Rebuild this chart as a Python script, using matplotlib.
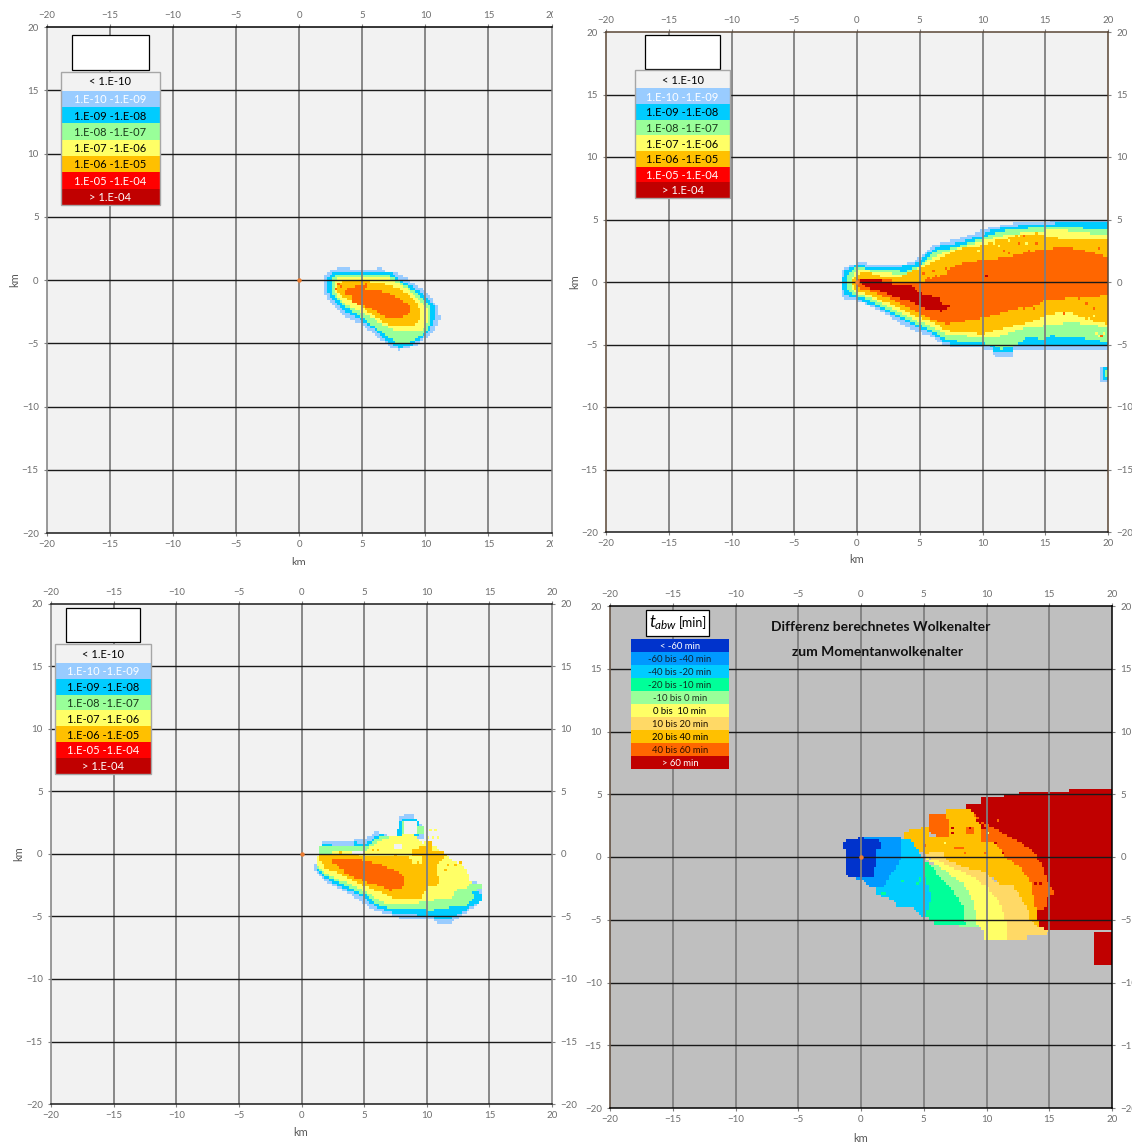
import numpy as np
import matplotlib
matplotlib.use("Agg")
import matplotlib.pyplot as plt
from matplotlib.colors import ListedColormap
from matplotlib.path import Path
from matplotlib.patches import Rectangle
from matplotlib.transforms import Affine2D, Bbox

W, H = 1132, 1142
FONT = "Lato"
plt.rcParams["font.family"] = FONT
plt.rcParams["mathtext.fontset"] = "custom"
plt.rcParams["mathtext.it"] = "Lato:italic"
plt.rcParams["mathtext.rm"] = "Lato"

# ---------- legend content ----------
CONC_LABELS = ["< 1.E-10", "1.E-10 -1.E-09", "1.E-09 -1.E-08", "1.E-08 -1.E-07",
               "1.E-07 -1.E-06", "1.E-06 -1.E-05", "1.E-05 -1.E-04", "> 1.E-04"]
CONC_COLORS = ["#F2F2F2", "#99CCFF", "#00CCFF", "#99FF99", "#FFFF66", "#FFC000", "#FF6600", "#C00000"]
CONC_LEG_COLORS = ["#F2F2F2", "#99CCFF", "#00CCFF", "#99FF99", "#FFFF66", "#FFC000", "#FF0000", "#C00000"]
CONC_TEXT = ["black", "white", "black", "#1a3a1a", "black", "black", "white", "white"]
AGE_LABELS = ["< -60 min", "-60 bis -40 min", "-40 bis -20 min", "-20 bis -10 min", "-10 bis 0 min",
              "0 bis  10 min", "10 bis 20 min", "20 bis 40 min", "40 bis 60 min", "> 60 min"]
AGE_COLORS = ["#BFBFBF", "#0033CC", "#0099FF", "#00CCFF", "#00FF99", "#99FF99",
              "#FFFF66", "#FFD966", "#FFC000", "#FF6600", "#C00000"]
AGE_TEXT = ["white", "#102030", "#102030", "#103020", "#203020", "black", "#201000", "black", "#301000", "white"]
TICKS = [-20, -15, -10, -5, 0, 5, 10, 15, 20]

# ---------- panel 1: outlines of the concentration classes, km ----------
P1_L1 = [(2.28,.66),(3.33,1.0),(3.9,1.0),(4.13,.74),(6.06,.74),(6.16,1.05),(6.56,1.05),(6.64,.74),(7.96,.47),
         (8.76,0),(10.2,-1.05),(11.0,-2.1),(11.14,-3.16),(10.6,-4.2),(9.29,-5.13),(7.96,-5.53),(7.17,-5.26),
         (6.38,-4.6),(5.05,-3.55),(3.73,-3.03),(2.94,-2.24),(2.28,-1.58),(1.93,-.92),(1.93,.26)]
P1_L2 = [(2.54,.39),(2.8,.66),(7.12,.66),(7.96,.05),(9.02,-.53),(10.08,-1.32),(10.74,-2.1),(10.74,-3.16),(10.2,-4.2),
         (9.02,-5.08),(7.96,-5.34),(7.17,-5),(6.38,-4.2),(5.05,-3.29),(3.47,-2.37),(2.54,-1.45),(2.28,-.92),(2.28,.13)]
P1_L3 = [(2.8,.39),(7.04,.39),(7.83,-.05),(9.02,-.79),(9.95,-1.58),(10.48,-2.32),(10.48,-3.16),(9.95,-4.2),(8.76,-4.95),
         (7.7,-4.95),(6.5,-4.08),(5.05,-3.03),(3.6,-2.1),(2.8,-1.32),(2.54,-.79),(2.54,0)]
P1_L4 = [(2.8,-.05),(3.2,.21),(7.17,.13),(7.83,-.18),(9.02,-1.05),(10.08,-2.1),(10.3,-3.03),(9.8,-3.95),(7.43,-3.95),
         (5.32,-2.76),(3.6,-1.9),(2.88,-1.05)]
P1_L5 = [(2.94,-.39),(3.33,-.08),(5.32,-.05),(6.77,-.26),(7.96,-.66),(9.02,-1.45),(9.68,-2.37),(9.68,-3.16),(9.15,-3.55),
         (7.04,-3.55),(5.45,-2.5),(4.26,-1.58),(3.47,-1.45),(2.88,-.79)]
P1_L6 = [(3.54,-1.18),(3.54,-.84),(4.13,-.58),(5.32,-.26),(5.45,-.58),(4.92,-.79),(6.38,-.79),(7.7,-1.32),(8.7,-1.97),
         (8.76,-2.63),(7.96,-3.03),(6.96,-3.03),(5.71,-2.24),(4.26,-1.79),(4.26,-1.18)]

# ---------- panel 2 ----------
P2_L1 = [(-1.17,1.07),(-.05,1.52),(2.07,1.47),(3.94,1.47),(4.73,1.79),(5.53,2.4),(6.06,2.99),(7.66,3.34),(9.26,3.82),
         (10.3,4.28),(12.18,4.68),(16.17,4.95),(20,4.95),(20,-5.43),(14.3,-5.43),(12.45,-5.48),(12.3,-5.94),(11,-5.94),
         (10.6,-5.35),(7.13,-5.08),(5.8,-4.28),(4.2,-3.74),(2.6,-2.75),(1.28,-2),(.08,-1.52),(-1.12,-1.26),(-1.22,0)]
P2_L1B = [(19.5,-6.7),(20,-6.7),(20,-7.9),(19.5,-7.9)]
P2_L2 = [(-.98,.99),(-.05,1.34),(2.07,1.2),(4.34,1.34),(5.13,1.74),(5.8,2.41),(6.33,2.86),(7.93,3.13),(10.05,3.74),
         (10.58,4.14),(12.31,4.47),(16.17,4.73),(20,4.73),(20,-5.08),(14.84,-5.03),(12.45,-5.08),(12.31,-5.53),
         (10.85,-5.53),(10.58,-5.03),(7.2,-4.89),(5.8,-4.01),(4.47,-3.48),(2.6,-2.54),(1.28,-1.87),(.08,-1.34),
         (-1.06,-.94),(-1.17,0)]
P2_L2B = [(19.65,-6.85),(20,-6.85),(20,-7.7),(19.65,-7.7)]
P2_L3 = [(-.72,.67),(-.05,1.15),(3.94,.86),(5,1.34),(6.06,2.41),(7.66,2.75),(10.05,3.48),(10.85,3.88),(12.18,4.2),
         (15.9,4.47),(20,4.14),(20,-4.81),(17.77,-4.41),(15.37,-4.28),(14.84,-4.68),(13.78,-4.28),(12.98,-4.81),
         (12.18,-5.21),(11.38,-5.35),(10.85,-4.95),(7.13,-4.63),(5.8,-3.74),(4.47,-3.21),(2.6,-2.27),(1.28,-1.6),
         (-.05,-1.07),(-.72,-.67)]
P2_L3B = [(19.8,-7.0),(20,-7.0),(20,-7.5),(19.8,-7.5)]
P2_L4 = [(-.45,.27),(.08,.99),(3.94,.59),(6.6,2.27),(8.46,2.81),(11.1,3.6),(12.7,3.88),(15.9,4.2),(20,3.74),(20,-3.6),
         (17.1,-3.21),(15.1,-3.48),(13.78,-3.6),(12.98,-3.74),(11.65,-4.28),(10.05,-4.41),(7.13,-4.14),(5.8,-3.48),
         (4.47,-2.94),(2.6,-2),(1.28,-1.34),(-.19,-.8),(-.45,-.27)]
P2_L5 = [(-.32,.27),(.35,.8),(1.14,.88),(1.28,.53),(3.4,.4),(6.6,1.87),(8.19,2.67),(10.05,2.94),(11.1,3.34),(13.24,3.74),
         (14.84,3.74),(16.17,3.48),(20,3.48),(20,-3.34),(18.56,-3.07),(16.97,-2.41),(15.37,-2.54),(13.78,-3.21),
         (11.38,-3.74),(10.05,-4.14),(7.13,-3.88),(5.8,-3.07),(4.2,-2.54),(2.6,-1.74),(1.28,-1.15),(-.05,-.67),(-.32,-.27)]
P2_L6 = [(.08,.27),(1.94,.27),(3.4,0),(5,0),(7.13,.67),(7.26,1.07),(8.72,1.6),(10.05,1.74),(11.91,2),(13.78,2.41),
         (14.84,2.67),(16.97,2.75),(18.56,2.41),(20,2),(20,-.94),(18.9,-1.2),(16.97,-1.26),(14.84,-1.47),(14.3,-1.87),
         (12.45,-2.14),(10.32,-2.81),(7.13,-3.34),(5.8,-2.94),(4.2,-2.14),(2.6,-1.34),(1.28,-.8),(.08,-.45)]
P2_L7 = [(.08,.13),(1.94,.21),(2.07,0),(3.4,-.19),(4.2,-.19),(5,-.8),(5.8,-1.07),(6.6,-1.15),(6.73,-1.79),(7.39,-1.87),
         (7.26,-2.14),(6.73,-2.33),(5.27,-2.09),(4.2,-1.47),(3.27,-1.26),(1.81,-.67),(.74,-.45)]
P2_SPECK_L6 = [(11.65,2.49),(12.18,2.33),(12.98,3.13),(13.38,3.72),(13.64,2.54),(14.31,3.07),(7.13,1.15),(6.86,.4),
               (6.33,.45),(5.8,.4),(6.06,.94),(5.21,.75),(8.99,1.15),(17.77,-1.26),(18.3,-1.6),(18.83,-2.06),(16.44,-2.41),
               (19.36,2.67),(14.04,-2.06),(13.24,-2.06),(19.49,-4.28)]
P2_SPECK_L7 = [(10.32,.53)]
P2_SPECK_L4 = [(10.85,3.07),(11.38,2.81),(12.18,3.34),(13.5,3.2),(9.79,2.41),(8.46,2.41),(19.1,-4.01),(19.63,-4.14),
               (6.6,2.14),(18.96,-2.67),(18.56,-2.81),(19.3,-4.2)]
P2_SPECK_L5 = [(8.59,2.49),(8.99,2.49),(9.92,2.94),(11.12,3.2),(11.65,3.4),(12.71,3.74),(14.31,3.82),(6.86,1.74),(6.6,1.34)]

# ---------- panel 3 ----------
P3_L1_BOTTOM = [(1.06,-.72),(1.06,-1.38),(1.72,-2.05),(2.52,-2.58),(3.85,-3.24),(4.91,-3.91),(5.84,-4.57),(6.9,-4.84),
                (8.09,-5.16),(10.48,-5.24),(10.88,-5.53),(12.07,-5.53),(12.33,-5.24),(13.13,-4.71),(13.71,-4.31),
                (14.4,-3.78),(14.4,-2.39),(10.48,-1.38),(2.52,-.59)]
P3_L2_BOTTOM = [(1.11,-.8),(1.19,-1.38),(1.86,-1.97),(2.79,-2.45),(3.85,-2.98),(5.04,-3.51),(5.97,-4.31),(6.9,-4.63),
                (8.09,-4.84),(10.48,-4.97),(10.88,-5.24),(12.07,-5.11),(13.13,-4.57),(13.79,-4.04),(14.4,-3.78),
                (14.32,-3.19),(10.48,-1.38),(2.52,-.59)]
P3_L3_BOTTOM = [(1.19,-1.12),(1.86,-1.78),(2.79,-2.23),(3.85,-2.77),(5.04,-3.24),(5.97,-3.99),(6.9,-4.36),(8.62,-4.31),
                (10.48,-4.57),(11.01,-4.36),(13.13,-4.18),(13.79,-3.51),(13.66,-3.11),(14.4,-2.66),(14.4,-2.39),
                (13.13,-2.39),(10.48,-1.38),(2.52,-.59)]
P3_L1_TOP = [(1.51,.96),(4.11,.96),(4.24,1.22),(5.04,1.28),(5.57,1.41),(5.92,1.76),(6.71,1.6),(6.71,.48),(1.51,.48)]
P3_L2_TOP = [(1.59,.74),(4.11,.61),(4.24,.96),(4.77,.74),(5.57,1.06),(6.23,1.6),(6.71,1.49),(6.71,.48),(1.59,.35)]
P3_L3_TOP = [(1.38,.53),(4.91,.53),(5.3,.69),(5.97,1.28),(7.69,1.41),(7.69,.48),(1.38,-.05)]
P3_L1_LOBE = [(7.77,2.82),(8.3,3.19),(8.89,3.19),(8.94,2.82),(9.47,2.55),(9.73,2.02),(9.73,1.28),(7.69,1.28)]
P3_L2_LOBE = [(7.69,2.02),(7.96,2.82),(9.15,2.82),(9.47,2.47),(9.47,2.02),(9.47,1.5),(7.69,1.5)]
P3_HOLE_A = [(8.3,2.55),(9.15,2.55),(9.15,1.68),(8.3,1.68)]
P3_L3_A = [(7.96,1.68),(8.3,1.68),(8.3,2.55),(7.96,2.55)]
P3_L3_B = [(9.15,1.68),(9.73,1.68),(9.73,2.2),(9.15,2.2)]
P3_L4 = [(1.14,-.64),(1.38,-.05),(2.52,.13),(4.91,.08),(5.57,.61),(6.23,1.01),(6.76,1.28),(7.82,1.41),(8.09,1.68),(8.89,1.68),
         (9.02,1.54),(9.68,.88),(10.08,.96),(11.54,-.05),(11.8,-.45),(12.86,-.85),(13.4,-1.65),(13.53,-2.31),(13,-2.85),
         (12.33,-2.85),(12.07,-3.51),(11.01,-3.64),(8.62,-4.04),(7.03,-4.04),(6.23,-3.72),(5.04,-2.98),(3.85,-2.45),
         (2.79,-1.97),(1.86,-1.52),(1.19,-.85)]
P3_L5 = [(1.38,-.05),(5.17,-.11),(8.89,-.32),(8.89,.48),(10.08,.53),(10.08,.96),(10.42,.96),(10.42,.21),(11.54,.08),
         (11.54,-.19),(10.74,-.98),(11.01,-2.45),(10.08,-2.66),(9.55,-3.51),(7.29,-3.56),(6.23,-3.03),(5.04,-2.58),
         (3.85,-2.05),(2.79,-1.52),(1.86,-1.12),(1.38,-.45)]
P3_L6 = [(2.31,-.37),(4.24,-.45),(5.04,-.53),(6.23,-.85),(7.29,-1.25),(8.22,-1.78),(8.3,-2.45),(7.82,-2.77),(7.16,-2.93),
         (6.23,-2.58),(5.04,-2.23),(4.38,-1.97),(3.32,-1.52),(3.32,-1.25),(2.31,-.59)]
P3_L4_PATCH = [(8.89,-.2),(9.6,-.2),(9.6,-.85),(8.89,-.85)]
P3_HOLE_B = [(7.35,.48),(8.04,.48),(8.04,.8),(7.35,.8)]
P3_SPECK_L5 = [(11.8,-.85),(12.33,-.85),(12.73,-.64),(11.54,-1.38),(6.2,.35),(5.7,.3),(3.2,.1),(7.5,-.05),(9.3,-.6)]
P3_SPECK_L4 = [(10.4,1.95),(10.7,1.95),(10.1,1.3),(10.6,1.3),(10.9,1.3)]

# ---------- panel 4: classes of the age difference ----------
P4_L10 = [(8.34,3.8),(8.34,4.2),(9.5,4.2),(9.72,4.87),(11.26,4.87),(13.3,5.21),(16.67,5.21),(16.67,5.4),(20,5.4),(20,-5.77),
          (14.23,-5.77),(13.96,-4.97),(10.78,-1.78),(8.12,2.21)]
P4_L10B = [(18.69,-6.04),(20,-6.04),(20,-8.56),(18.69,-8.56)]
P4_L9A = [(5.34,3.4),(7.59,3.4),(7.59,1.68),(6,1.68),(4.67,2.34),(5.34,2.34)]
P4_L9B = [(8.79,3.8),(9.19,3.0),(10.78,2.21),(11.57,1.68),(12.64,1.14),(13.7,.48),(14.49,-.72),(15.03,-2.31),(15.5,-2.85),
          (14.89,-3.11),(14.76,-4.04),(13.96,-4.31),(13.83,-3.91),(13.43,-2.58),(11.84,-.45),(9.98,2.21)]
P4_L8 = [(3.34,1.41),(3.48,2.07),(4.67,2.21),(4.8,2.34),(5.34,2.34),(5.34,1.68),(6.93,1.68),(6.88,3.8),(8.79,3.8),(9.11,3.14),
         (9.72,2.21),(10.65,1.14),(11.57,-.05),(12.64,-.77),(13.43,-1.78),(13.96,-4.18),(14.23,-5.64),(13.7,-5.11),
         (13.43,-4.97),(10.78,-1.78),(6.8,-.19),(5.07,.21),(4.41,.61),(4.01,1.41)]
P4_L9C = [(8.39,1.81),(9.05,1.81),(9.05,2.34),(8.39,2.34)]
P4_L9D = [(9.58,1.14),(10.78,1.14),(10.78,2.21),(9.58,2.21)]
P4_L9E = [(7.33,.6),(8.12,.6),(8.12,.85),(7.33,.85)]
P4_L7 = [(5.07,.21),(6,.48),(6.66,.48),(6.66,.08),(6.8,-.19),(8.12,-.77),(9.98,-1.2),(10.7,-2.05),(12.1,-2.26),(12.64,-3.11),
         (13.43,-4.44),(13.43,-4.97),(13.7,-5.11),(14.23,-5.64),(15.03,-5.77),(15.03,-6.09),(13.3,-6.17),(13.3,-6.57),
         (11.52,-6.57),(11.52,-5.11),(11.04,-3.64),(9.98,-2.31),(8.92,-1.52),(7.33,-.85),(6.53,-.59),(5.47,-.05)]
P4_L6 = [(5.2,-.05),(6,-.19),(7.33,-.85),(8.92,-1.52),(9.98,-2.31),(11.04,-3.64),(11.52,-5.11),(11.52,-6.57),(9.72,-6.57),
         (9.72,-5.77),(9.32,-5.64),(9.19,-4.44),(8.79,-3.11),(8.12,-2.05),(7.06,-1.38),(6.26,-.72),(5.47,-.32)]
P4_L5 = [(5.55,-.59),(6.26,-.72),(7.06,-1.38),(8.12,-2.05),(8.79,-3.11),(9.19,-4.44),(9.32,-5.59),(7.72,-5.59),(7.72,-5.37),
         (8.34,-5.24),(8.12,-3.91),(7.33,-2.71),(6.26,-1.52)]
P4_L4 = [(5.07,-.32),(5.55,-.59),(6.26,-1.52),(7.33,-2.71),(8.12,-3.91),(8.34,-5.37),(5.73,-5.37),(5.73,-4.97),(5.07,-4.84),
         (5.47,-3.78),(5.6,-2.98),(5.07,-1.52),(4.94,-.45)]
P4_L3 = [(3.21,1.41),(4.01,1.41),(4.46,.61),(5.07,-.32),(5.07,-1.52),(5.6,-2.98),(5.47,-3.78),(5.07,-4.84),(4.67,-4.57),
         (4.14,-4.04),(2.95,-4.04),(2.55,-3.38),(1.22,-2.98),(1.22,-2.45),(1.88,-2.31),(2.15,-1.65),(2.95,-.59),(3.21,-.05)]
P4_L2 = [(-.24,1.62),(3.21,1.62),(3.21,-.05),(2.95,-.59),(2.15,-1.65),(1.88,-2.31),(.56,-2.31),(.16,-1.91),(-.37,-1.78),(-.37,-1.38)]
P4_L1 = [(-1.3,1.28),(-.24,1.41),(-.24,1.62),(.16,1.62),(.16,1.41),(1.57,1.28),(1.57,.66),(1.3,.61),(1.3,-.72),(1.09,-.72),
         (.96,-1.52),(-1.04,-1.52),(-1.22,-1.12),(-1.3,-.72),(-1.22,-.05),(-1.3,.61)]
P4_SPECK_L10 = [(7.38,2.26),(7.38,2.0),(8.79,2.39),(13.83,-2.05),(14.23,-2.05)]
P4_SPECK_L9 = [(5.07,.82),(5.2,.82),(8.39,.35),(9.98,.4),(10.91,2.95),(9.98,1.33)]
P4_SPECK_L6 = [(6.66,1.14),(10.11,1.94)]
P4_SPECK_L4 = [(4.62,-1.65),(4.54,-2.05),(4.7,-1.9),(3.21,-1.84),(1.62,-2.85),(1.9,-2.85)]

# Painter's order: later outlines overwrite earlier ones on the model grid.
P1_PAINT = [(1,P1_L1),(2,P1_L2),(3,P1_L3),(4,P1_L4),(5,P1_L5),(6,P1_L6)]
P2_PAINT = [(1,P2_L1),(1,P2_L1B),(2,P2_L2),(2,P2_L2B),(3,P2_L3),(3,P2_L3B),(4,P2_L4),(5,P2_L5),(6,P2_L6),(7,P2_L7)]
P3_PAINT = [(1,P3_L1_LOBE),(2,P3_L2_LOBE),(0,P3_HOLE_A),(3,P3_L3_A),(3,P3_L3_B),(1,P3_L1_BOTTOM),(1,P3_L1_TOP),
            (2,P3_L2_BOTTOM),(2,P3_L2_TOP),(3,P3_L3_BOTTOM),(3,P3_L3_TOP),(4,P3_L4),(5,P3_L5),(4,P3_L4_PATCH),
            (6,P3_L6),(0,P3_HOLE_B)]
P4_PAINT = [(10,P4_L10),(10,P4_L10B),(9,P4_L9A),(9,P4_L9B),(8,P4_L8),(9,P4_L9C),(9,P4_L9D),(9,P4_L9E),(7,P4_L7),(6,P4_L6),
            (5,P4_L5),(4,P4_L4),(3,P4_L3),(2,P4_L2),(1,P4_L1)]
P1_SPECKS = [(6,[(3.2,-.3),(3.4,-.55),(3.0,-.6)])]
P2_SPECKS = [(4,P2_SPECK_L4),(5,P2_SPECK_L5),(6,P2_SPECK_L6),(7,P2_SPECK_L7)]
P3_SPECKS = [(4,P3_SPECK_L4),(5,P3_SPECK_L5)]
P4_SPECKS = [(10,P4_SPECK_L10),(9,P4_SPECK_L9),(6,P4_SPECK_L6),(4,P4_SPECK_L4)]

CELL = 0.2
N_CELLS = int(round(40 / CELL))
edges = np.linspace(-20, 20, N_CELLS + 1)
centres = (edges[:-1] + edges[1:]) / 2
gx, gy = np.meshgrid(centres, centres)
pts = np.column_stack([gx.ravel(), gy.ravel()])


def build_field(paint, specks):
    field = np.zeros(gx.shape, dtype=int)
    for level, outline in paint:
        mask = Path(outline + [outline[0]]).contains_points(pts).reshape(gx.shape)
        field[mask] = level
    for level, cells in specks:
        for x, y in cells:
            field[int((y + 20) // CELL), int((x + 20) // CELL)] = level
    return field


fig = plt.figure(figsize=(W / 100, H / 100), dpi=100, facecolor="white")
PX = Affine2D().scale(1 / W, -1 / H).translate(0, 1) + fig.transFigure


def panel(box, field, cmap_colors, right_labels, spines, clip_x=None):
    x0, y0, x1, y1 = box
    ax = fig.add_axes([x0 / W, 1 - y1 / H, (x1 - x0) / W, (y1 - y0) / H])
    ax.set_facecolor(cmap_colors[0])
    ax.pcolormesh(edges, edges, field, cmap=ListedColormap(cmap_colors), vmin=-.5, vmax=len(cmap_colors) - .5,
                  shading="flat", zorder=1)
    ax.set_xlim(-20, 20)
    ax.set_ylim(-20, 20)
    ax.set_xticks(TICKS)
    ax.set_yticks(TICKS)
    ax.tick_params(axis="both", which="major", labelsize=7, labelcolor="#6e6e6e", color="#808080", length=2, width=.8,
                   top=True, labeltop=True, bottom=True, labelbottom=True, left=True, labelleft=True,
                   right=right_labels, labelright=right_labels, pad=4)
    ax.tick_params(axis="x", pad=3)
    for t in TICKS[1:-1]:
        ax.plot([t, t], [-20, 20], color="#7f7f7f", lw=1.3, zorder=3, solid_capstyle="butt")
        ax.plot([-20, 20], [t, t], color="#1a1a1a", lw=1.0, zorder=3.5, solid_capstyle="butt")
    for side, col in spines.items():
        ax.spines[side].set_color(col)
        ax.spines[side].set_linewidth(1.1)
        ax.spines[side].set_zorder(5)
    ax.plot([0], [0], "o", ms=3.2, color="#ED7D31", mec="none", zorder=6)
    if clip_x is not None:
        clip = Bbox.from_extents(0, 0, clip_x, H)
        for tk in list(ax.xaxis.get_major_ticks()):
            for lab in (tk.label1, tk.label2):
                lab.set_clip_box(clip)
                lab.set_clip_on(True)
    return ax


def legend(x0, y0, x1, y1, labels, colors, tcolors, fontsize, edge, first=1.0):
    n = len(labels)
    h = (y1 - y0) / (n - 1 + first)
    tops = [y0] + [y0 + (first + i) * h for i in range(n - 1)]
    heights = [first * h] + [h] * (n - 1)
    for top, hh, lab, col, tc in zip(tops, heights, labels, colors, tcolors):
        fig.add_artist(Rectangle((x0, top), x1 - x0, hh, transform=PX, fc=col, ec="none", zorder=10))
        fig.text((x0 + x1) / 2 / W, 1 - (top + .5 * hh + .8) / H, lab, color=tc, fontsize=fontsize, ha="center",
                 va="center", zorder=11)
    if edge:
        fig.add_artist(Rectangle((x0, y0), x1 - x0, y1 - y0, transform=PX, fc="none", ec="#A6A6A6", lw=1, zorder=12))


def white_box(x0, y0, x1, y1):
    fig.add_artist(Rectangle((x0, y0), x1 - x0, y1 - y0, transform=PX, fc="white", ec="black", lw=.9, zorder=10))


def label(x, y, s, rot=0, clip_y=None):
    t = fig.text(x / W, 1 - y / H, s, fontsize=8, color="#595959", ha="center", va="center", rotation=rot, zorder=9)
    if clip_y is not None:
        t.set_clip_box(Bbox.from_extents(0, clip_y, W, H))
        t.set_clip_on(True)


GRAY = "#7f7f7f"
BROWN = "#5a4636"
panel((47, 27, 551.5, 533), build_field(P1_PAINT, P1_SPECKS), CONC_COLORS, False,
      {"top": "black", "bottom": "#1a1a1a", "left": GRAY, "right": GRAY}, clip_x=552.5)
panel((606, 32, 1108, 532), build_field(P2_PAINT, P2_SPECKS), CONC_COLORS, True,
      {"top": BROWN, "bottom": "#1a1a1a", "left": BROWN, "right": BROWN})
panel((51, 604, 552, 1104), build_field(P3_PAINT, P3_SPECKS), CONC_COLORS, True,
      {"top": "#1a1a1a", "bottom": "#1a1a1a", "left": GRAY, "right": GRAY})
panel((610, 606, 1112, 1108), build_field(P4_PAINT, P4_SPECKS), AGE_COLORS, True,
      {"top": "black", "bottom": "black", "left": BROWN, "right": "black"})

white_box(72, 35, 149, 70)
legend(61, 71.5, 159.5, 205, CONC_LABELS, CONC_LEG_COLORS, CONC_TEXT, 8, True, first=1.18)
white_box(645, 35, 720, 69)
legend(635, 70, 730, 198, CONC_LABELS, CONC_LEG_COLORS, CONC_TEXT, 8, True, first=1.18)
white_box(66, 608, 140, 642)
legend(55, 644, 151, 774, CONC_LABELS, CONC_LEG_COLORS, CONC_TEXT, 8, True, first=1.18)
white_box(646, 610, 709, 635.5)
legend(631, 639, 729, 769, AGE_LABELS, AGE_COLORS[1:], AGE_TEXT, 6.8, False)
fig.text(677.5 / W, 1 - 623 / H, r"$t_{abw}$", fontsize=12, ha="right", va="center", color="black", zorder=12)
fig.text(679 / W, 1 - 623 / H, "[min]", fontsize=9, ha="left", va="center", color="black", zorder=12)
fig.text(881 / W, 1 - 627 / H, "Differenz berechnetes Wolkenalter", fontsize=10, fontweight="bold", ha="center",
         va="center", color="#111111", zorder=12)
fig.text(878 / W, 1 - 652 / H, "zum Momentanwolkenalter", fontsize=10, fontweight="bold", ha="center", va="center",
         color="#111111", zorder=12)

label(299, 562, "km", clip_y=H - 565)
label(15, 280, "km", rot=90)
label(857, 560, "km")
label(575, 282, "km", rot=90)
label(301, 1133, "km")
label(19, 854, "km", rot=90)
label(861, 1138, "km")

fig.savefig("out.png", dpi=100, facecolor="white")
